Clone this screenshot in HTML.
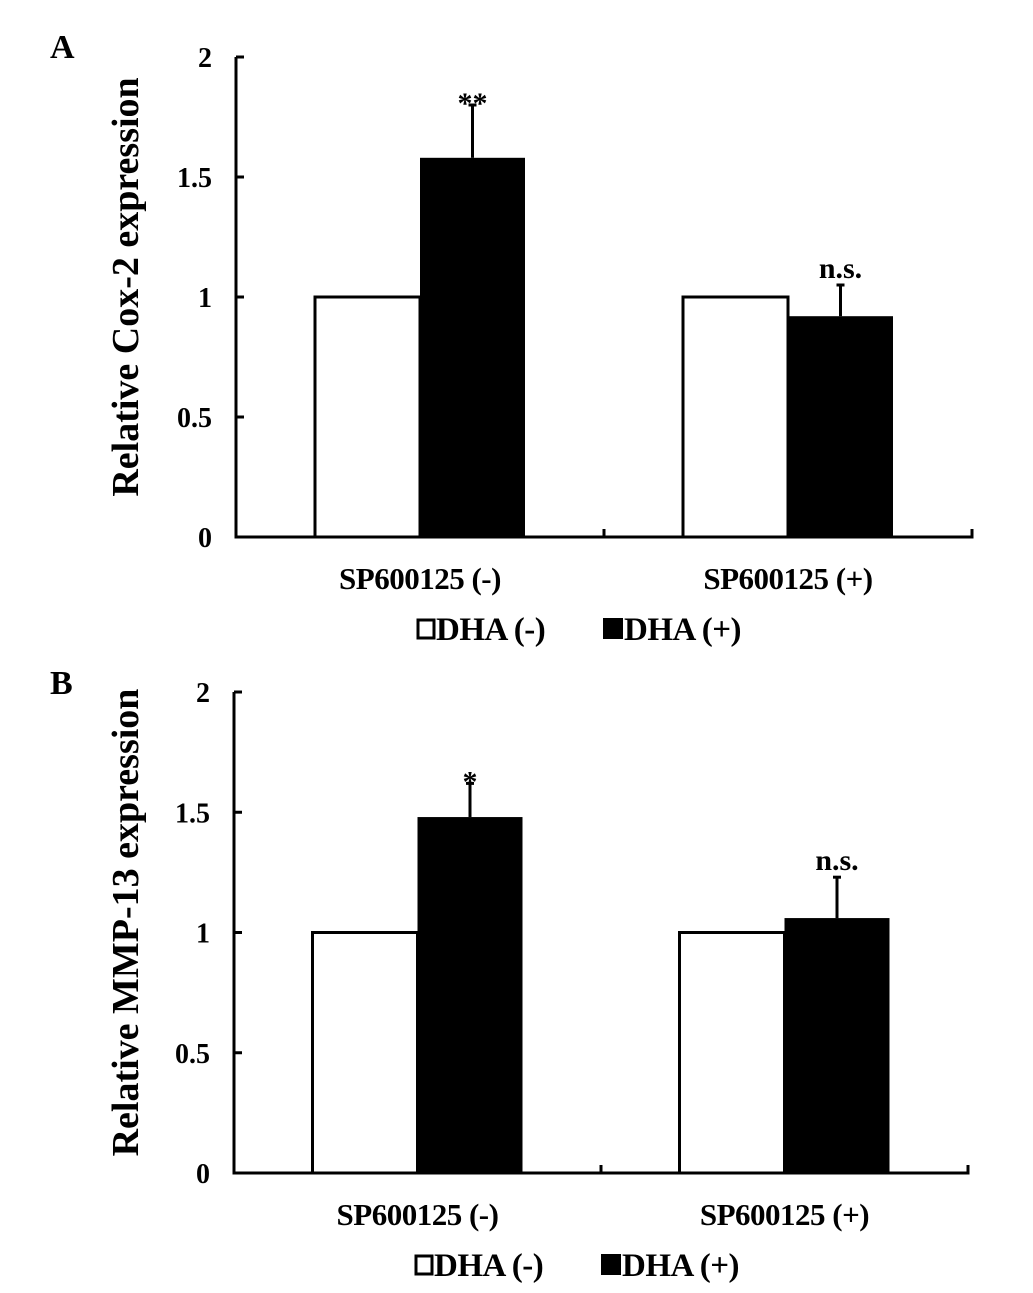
<!DOCTYPE html>
<html><head><meta charset="utf-8"><style>
html,body{margin:0;padding:0;background:#fff;}
svg{display:block;font-family:"Liberation Serif",serif;font-weight:bold;}
</style></head><body>
<svg id="fig" width="1033" height="1293" viewBox="0 0 1033 1293"></svg>
<script>
const categories = ["SP600125 (-)", "SP600125 (+)"];
const seriesNames = ["DHA (-)", "DHA (+)"];
const yTicks = [0, 0.5, 1, 1.5, 2];
const yTickLabels = ["0", "0.5", "1", "1.5", "2"];
const coxCtrl = [1, 1];
const coxDha = [1.58, 0.92];
const coxDhaErr = [0.22, 0.13];
const coxSig = ["**", "n.s."];
const mmpCtrl = [1, 1];
const mmpDha = [1.48, 1.06];
const mmpDhaErr = [0.14, 0.17];
const mmpSig = ["*", "n.s."];

const NS = "http://www.w3.org/2000/svg";
const svg = document.getElementById("fig");
function mk(tag, attrs, parent, text){
  const e = document.createElementNS(NS, tag);
  for (const k in attrs) e.setAttribute(k, attrs[k]);
  if (text !== undefined) e.textContent = text;
  (parent || svg).appendChild(e);
  return e;
}

function panel(p){
  const g = mk("g", {});
  
  
  const yScale = v => p.y0 - (v / 2) * (p.y0 - p.y2);
  const groupW = (p.xEnd - p.x0) / categories.length;
  const barW = 105;
  const L = mk("text", {x: 50, y: p.letterY, "font-size": 34}, g, p.letter);
  
  
  categories.forEach((c, i) => {
    const cx = p.x0 + groupW * (i + 0.5);
    const yc = yScale(p.ctrl[i]);
    const r1 = mk("path", {d: `M${cx - barW} ${p.y0} V${yc} H${cx} V${p.y0}`, fill: "#fff", stroke: "#000", "stroke-width": 3}, g);
    
    
    const yd = yScale(p.dha[i]);
    const r2 = mk("rect", {x: cx, y: yd, width: barW, height: p.y0 - yd, fill: "#000"}, g);
    
    
    const ex = cx + barW / 2;
    const ye = yScale(p.dha[i] + p.err[i]);
    const e1 = mk("line", {x1: ex, x2: ex, y1: yd, y2: ye, stroke: "#000", "stroke-width": 3}, g);
    
    
    mk("line", {x1: ex - 4, x2: ex + 4, y1: ye, y2: ye, stroke: "#000", "stroke-width": 3}, g);
    const ns = p.sig[i] === "n.s.";
    const s = mk("text", {x: ex, y: ye - (ns ? 7 : -8), "text-anchor": "middle", "font-size": 30}, g, p.sig[i]);
    
    
    const cl = mk("text", {x: cx, y: p.y0 + 52, "text-anchor": "middle", "font-size": 31, "letter-spacing": "-0.5"}, g, c);
    
    
  });
  const ax = mk("path", {d: `M${p.x0} ${p.y2} V${p.y0} H${p.xEnd} V${p.y0 - 8} M${p.x0 + groupW} ${p.y0} V${p.y0 - 8}`, fill: "none", stroke: "#000", "stroke-width": 3}, g);
  
  
  yTicks.forEach((t, i) => {
    const y = yScale(t);
    mk("line", {x1: p.x0, x2: p.x0 + 8, y1: y, y2: y, stroke: "#000", "stroke-width": 3}, g);
    const tl = mk("text", {x: p.x0 - 24, y: y + 10, "text-anchor": "end", "font-size": 28}, g, yTickLabels[i]);
    
    
  });
  const yt = mk("text", {x: 0, y: 0, "text-anchor": "middle", "font-size": 38, transform: `translate(138 ${(p.y0 + p.y2) / 2 - 10}) rotate(-90)`}, g, p.title);
  
  
  const lg = mk("g", {}, g);
  
  
  const ly = p.y0 + 103;
  mk("rect", {x: p.legX, y: ly - 20, width: 16, height: 18, fill: "#fff", stroke: "#000", "stroke-width": 3}, lg);
  const t1 = mk("text", {x: p.legX + 18, y: ly, "font-size": 33, "letter-spacing": "-0.5"}, lg, seriesNames[0]);
  
  
  mk("rect", {x: p.legX + 185, y: ly - 22, width: 20, height: 21, fill: "#000"}, lg);
  const t2 = mk("text", {x: p.legX + 206, y: ly, "font-size": 33, "letter-spacing": "-0.5"}, lg, seriesNames[1]);
  
  
}

panel({name: "panel-a-cox2-chart", letter: "A", letterY: 58, x0: 236, xEnd: 972, y0: 537, y2: 57,
  ctrl: coxCtrl, dha: coxDha, err: coxDhaErr, sig: coxSig, title: "Relative Cox-2 expression", legX: 418});
panel({name: "panel-b-mmp13-chart", letter: "B", letterY: 694, x0: 234, xEnd: 968, y0: 1173, y2: 692,
  ctrl: mmpCtrl, dha: mmpDha, err: mmpDhaErr, sig: mmpSig, title: "Relative MMP-13 expression", legX: 416});
</script>
</body></html>
